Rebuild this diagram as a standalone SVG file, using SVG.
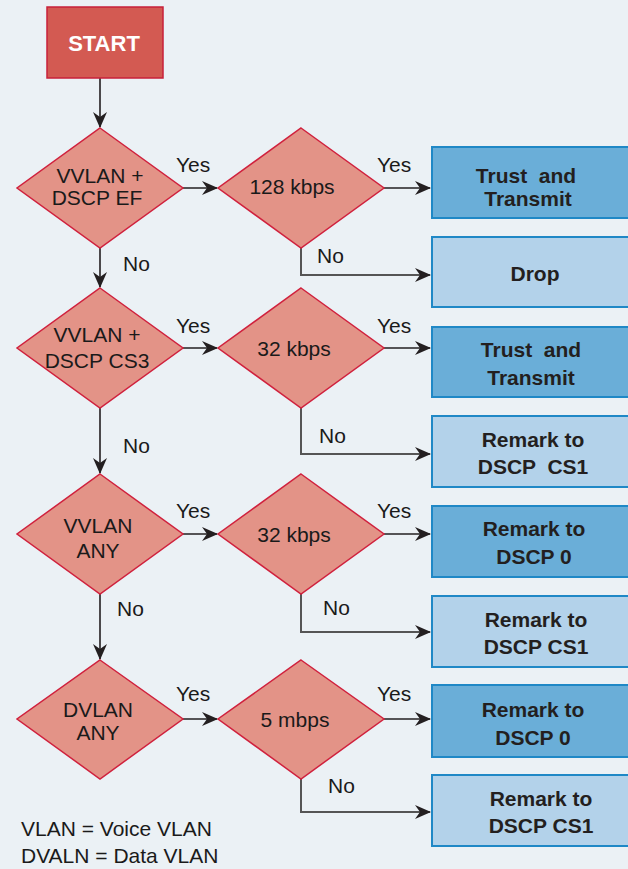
<svg xmlns="http://www.w3.org/2000/svg" width="628" height="869" viewBox="0 0 628 869">
<style>
.bg{fill:#ebf1f5}
.start{fill:#d35a52;stroke:#c8203a;stroke-width:1.5}
.dia{fill:#e39387;stroke:#d0213d;stroke-width:1.5}
.dark{fill:#6aaed8;stroke:#1f88c6;stroke-width:2}
.light{fill:#b3d2ea;stroke:#1f88c6;stroke-width:2}
.t{font-family:"Liberation Sans",Arial,sans-serif;font-size:21px;fill:#1a1a1a;white-space:pre}
.c{text-anchor:middle}
.b{font-weight:bold;fill:#231f20}
.w{font-weight:bold;fill:#ffffff;font-size:22px}
.ln{fill:none;stroke:#231f20;stroke-width:1.6}
.ln2{fill:none;stroke:#555555;stroke-width:2}
</style>
<defs>
<marker id="ah" markerUnits="userSpaceOnUse" markerWidth="16" markerHeight="14" refX="15" refY="7" orient="auto">
<path d="M0,0 L16,7 L0,14 L5,7 z" fill="#231f20"/>
</marker>
</defs>
<rect class="bg" x="0" y="0" width="628" height="869"/>

<g id="connectors">
<path class="ln" d="M100,78 V127" marker-end="url(#ah)"/>
<path class="ln" d="M100,248 V287" marker-end="url(#ah)"/>
<path class="ln" d="M100,408 V473" marker-end="url(#ah)"/>
<path class="ln" d="M100,594 V659" marker-end="url(#ah)"/>
<path class="ln" d="M183,188 H217" marker-end="url(#ah)"/>
<path class="ln" d="M183,348 H217" marker-end="url(#ah)"/>
<path class="ln" d="M183,534 H217" marker-end="url(#ah)"/>
<path class="ln" d="M183,719 H217" marker-end="url(#ah)"/>
<path class="ln" d="M383,188 H430" marker-end="url(#ah)"/>
<path class="ln" d="M383,348 H430" marker-end="url(#ah)"/>
<path class="ln" d="M383,534 H430" marker-end="url(#ah)"/>
<path class="ln" d="M383,719 H430" marker-end="url(#ah)"/>
<path class="ln2" d="M301,248 V275 H430" marker-end="url(#ah)"/>
<path class="ln2" d="M301,408 V454 H430" marker-end="url(#ah)"/>
<path class="ln2" d="M301,594 V632 H430" marker-end="url(#ah)"/>
<path class="ln2" d="M301,779 V812 H430" marker-end="url(#ah)"/>
<text class="t" x="176" y="172">Yes</text>
<text class="t" x="377" y="172">Yes</text>
<text class="t" x="123" y="271">No</text>
<text class="t" x="317" y="263">No</text>
<text class="t" x="176" y="333">Yes</text>
<text class="t" x="377" y="333">Yes</text>
<text class="t" x="123" y="453">No</text>
<text class="t" x="319" y="443">No</text>
<text class="t" x="176" y="518">Yes</text>
<text class="t" x="377" y="518">Yes</text>
<text class="t" x="117" y="616">No</text>
<text class="t" x="323" y="615">No</text>
<text class="t" x="176" y="701">Yes</text>
<text class="t" x="377" y="701">Yes</text>
<text class="t" x="328" y="793">No</text>
</g>

<g id="start">
<rect class="start" x="47" y="7" width="116" height="71"/>
<text class="t w c" x="104" y="51">START</text>
</g>

<g id="d1">
<polygon class="dia" points="100,128 183,188 100,248 17,188"/>
<text class="t c" x="100" y="183">VVLAN +</text>
<text class="t c" x="97" y="205">DSCP EF</text>
</g>
<g id="d1b">
<polygon class="dia" points="301,128 384,188 301,248 218,188"/>
<text class="t c" x="292" y="194">128 kbps</text>
</g>
<g id="b1">
<rect class="dark" x="432" y="147" width="200" height="71"/>
<text class="t b c" x="526" y="183">Trust  and</text>
<text class="t b c" x="528" y="206">Transmit</text>
</g>
<g id="b2">
<rect class="light" x="432" y="237" width="200" height="70"/>
<text class="t b c" x="535" y="281">Drop</text>
</g>

<g id="d2">
<polygon class="dia" points="100,288 183,348 100,408 17,348"/>
<text class="t c" x="97" y="342">VVLAN +</text>
<text class="t c" x="97" y="368">DSCP CS3</text>
</g>
<g id="d2b">
<polygon class="dia" points="301,288 384,348 301,408 218,348"/>
<text class="t c" x="294" y="356">32 kbps</text>
</g>
<g id="b3">
<rect class="dark" x="432" y="327" width="200" height="70"/>
<text class="t b c" x="531" y="357">Trust  and</text>
<text class="t b c" x="531" y="385">Transmit</text>
</g>
<g id="b4">
<rect class="light" x="432" y="416" width="200" height="71"/>
<text class="t b c" x="533" y="447">Remark to</text>
<text class="t b c" x="533" y="474">DSCP  CS1</text>
</g>

<g id="d3">
<polygon class="dia" points="100,474 183,534 100,594 17,534"/>
<text class="t c" x="98" y="533">VVLAN</text>
<text class="t c" x="98" y="558">ANY</text>
</g>
<g id="d3b">
<polygon class="dia" points="301,474 384,534 301,594 218,534"/>
<text class="t c" x="294" y="542">32 kbps</text>
</g>
<g id="b5">
<rect class="dark" x="432" y="506" width="200" height="71"/>
<text class="t b c" x="534" y="536">Remark to</text>
<text class="t b c" x="534" y="564">DSCP 0</text>
</g>
<g id="b6">
<rect class="light" x="432" y="596" width="200" height="71"/>
<text class="t b c" x="536" y="627">Remark to</text>
<text class="t b c" x="536" y="654">DSCP CS1</text>
</g>

<g id="d4">
<polygon class="dia" points="100,660 183,719 100,779 17,719"/>
<text class="t c" x="98" y="717">DVLAN</text>
<text class="t c" x="98" y="740">ANY</text>
</g>
<g id="d4b">
<polygon class="dia" points="301,660 384,719 301,779 218,719"/>
<text class="t c" x="295" y="727">5 mbps</text>
</g>
<g id="b7">
<rect class="dark" x="432" y="685" width="200" height="72"/>
<text class="t b c" x="533" y="717">Remark to</text>
<text class="t b c" x="533" y="745">DSCP 0</text>
</g>
<g id="b8">
<rect class="light" x="432" y="775" width="200" height="71"/>
<text class="t b c" x="541" y="806">Remark to</text>
<text class="t b c" x="541" y="833">DSCP CS1</text>
</g>

<g id="legend">
<text class="t" x="21" y="836">VLAN = Voice VLAN</text>
<text class="t" x="21" y="863">DVALN = Data VLAN</text>
</g>
</svg>
